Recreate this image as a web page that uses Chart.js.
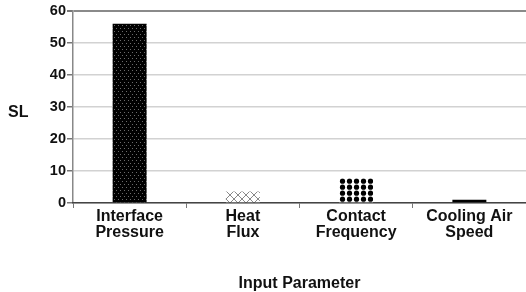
<!DOCTYPE html>
<html>
<head>
<meta charset="utf-8">
<script src="https://cdn.jsdelivr.net/npm/chart.js@4/dist/chart.umd.min.js"></script>
<style>
  html, body { margin: 0; padding: 0; background: #fff; }
  #wrap { width: 526px; height: 292px; }
</style>
</head>
<body>
<div id="wrap"><canvas id="slChart" width="526" height="292"></canvas></div>
<script>
// data
const categories = [["Interface", "Pressure"], ["Heat", "Flux"], ["Contact", "Frequency"], ["Cooling Air", "Speed"]];
const slValues = [56, 3.6, 7.7, 1.0];
const yTicks = [0, 10, 20, 30, 40, 50, 60];
const yTitle = "SL";
const xTitle = "Input Parameter";

const FONT = "'Liberation Sans', Arial, sans-serif";

// fill patterns
function makePattern(w, h, draw) {
    const c = document.createElement('canvas');
    c.width = w; c.height = h;
    const g = c.getContext('2d');
    draw(g);
    return document.getElementById('slChart').getContext('2d').createPattern(c, 'repeat');
}

const dottedBlack = makePattern(4, 6, g => {
    g.fillStyle = '#000'; g.fillRect(0, 0, 4, 6);
    g.fillStyle = '#6a6a6a';
    g.fillRect(1, 1, 1, 1);
    g.fillRect(3, 4, 1, 1);
});

const crossHatch = makePattern(8, 8, g => {
    g.fillStyle = '#fff'; g.fillRect(0, 0, 8, 8);
    g.strokeStyle = '#888'; g.lineWidth = 1;
    g.beginPath();
    g.moveTo(0, 0); g.lineTo(8, 8);
    g.moveTo(8, 0); g.lineTo(0, 8);
    g.stroke();
});

const bigDots = makePattern(7, 6.5, g => {
    g.fillStyle = '#fff'; g.fillRect(0, 0, 7, 7);
    g.fillStyle = '#000';
    g.beginPath(); g.arc(3.5, 3.2, 2.6, 0, Math.PI * 2); g.fill();
});

const barFills = [dottedBlack, crossHatch, bigDots, '#000'];

// line the patterns up with the top-left of each bar
const alignPatterns = {
    id: 'alignPatterns',
    beforeDatasetsDraw(chart) {
        const bars = chart.getDatasetMeta(0).data;
        bars.forEach((bar, i) => {
            const fill = barFills[i];
            if (fill && fill.setTransform) {
                fill.setTransform(new DOMMatrix().translate(Math.round(bar.x - bar.width / 2), Math.round(bar.y)));
            }
        });
    }
};

// "SL" label sits horizontal on the left
const sideLabel = {
    id: 'sideLabel',
    afterDraw(chart) {
        const ctx = chart.ctx;
        const y = chart.scales.y;
        ctx.save();
        ctx.font = 'bold 16px ' + FONT;
        ctx.fillStyle = '#111';
        ctx.textAlign = 'left';
        ctx.textBaseline = 'middle';
        ctx.fillText(yTitle, 8, (y.top + y.bottom) / 2 + 6);
        ctx.restore();
    }
};

new Chart(document.getElementById('slChart').getContext('2d'), {
    type: 'bar',
    data: {
        labels: categories,
        datasets: [{
            data: slValues,
            backgroundColor: barFills,
            borderWidth: 0,
            barPercentage: 0.3,
            categoryPercentage: 1
        }]
    },
    options: {
        responsive: false,
        animation: false,
        layout: { padding: { top: 11, right: 0, bottom: 0, left: 0 } },
        plugins: { legend: { display: false }, tooltip: { enabled: false } },
        scales: {
            y: {
                min: 0,
                max: 60,
                afterFit: s => { s.width = 73; },
                afterBuildTicks: s => { s.ticks = yTicks.map(v => ({ value: v })); },
                ticks: { font: { family: FONT, size: 14.5, weight: 'bold' }, color: '#111', padding: 1 },
                grid: {
                    color: c => c.tick && c.tick.value === 60 ? '#8a8a8a' : '#d2d2d2',
                    lineWidth: c => c.tick && c.tick.value === 60 ? 2 : 1.5,
                    tickColor: '#777',
                    tickLength: 6
                },
                border: { color: '#888', width: 1.5 }
            },
            x: {
                afterFit: s => { s.height = 89; },
                ticks: { font: { family: FONT, size: 16, weight: 'bold', lineHeight: 1 }, color: '#111', padding: 1, maxRotation: 0 },
                grid: { offset: true, drawOnChartArea: false, tickLength: 5, color: '#777' },
                border: { color: '#444', width: 1.5 },
                title: {
                    display: true,
                    text: xTitle,
                    font: { family: FONT, size: 16, weight: 'bold', lineHeight: 1 },
                    color: '#111',
                    padding: { top: 0, bottom: 0 }
                }
            }
        }
    },
    plugins: [alignPatterns, sideLabel]
});
</script>
</body>
</html>
